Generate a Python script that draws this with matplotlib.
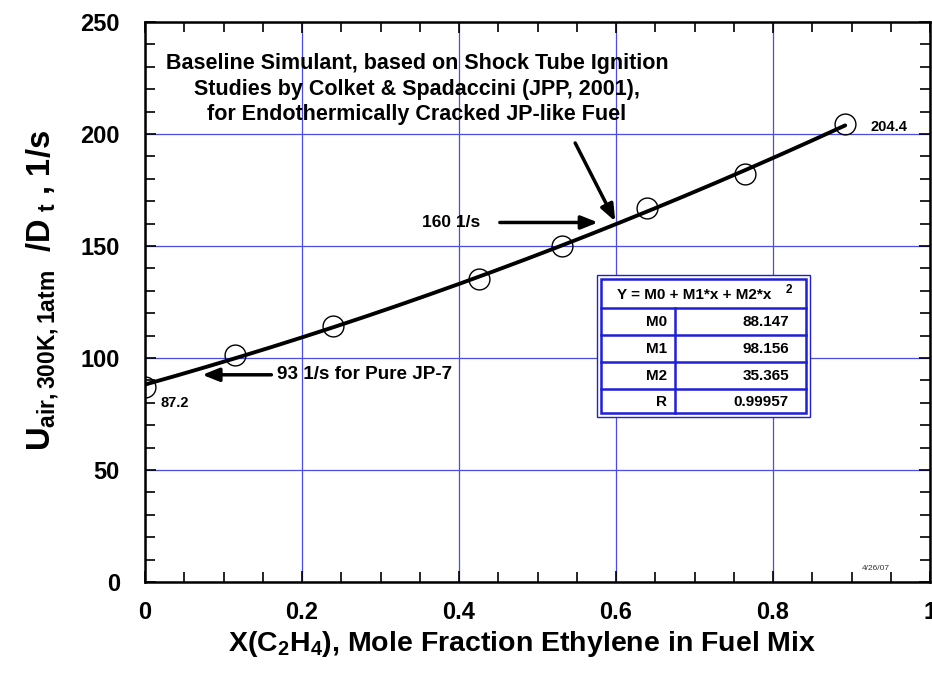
import numpy as np
import matplotlib
matplotlib.use('Agg')
import matplotlib.pyplot as plt
from matplotlib.patches import Rectangle
from matplotlib.lines import Line2D
from matplotlib.ticker import MultipleLocator

plt.rcParams['font.family'] = ['Liberation Sans', 'DejaVu Sans']
plt.rcParams['font.weight'] = 'bold'
plt.rcParams['axes.labelweight'] = 'bold'
plt.rcParams['mathtext.fontset'] = 'custom'
plt.rcParams['mathtext.rm'] = 'Liberation Sans:bold'
plt.rcParams['mathtext.it'] = 'Liberation Sans:bold'
plt.rcParams['mathtext.bf'] = 'Liberation Sans:bold'
plt.rcParams['mathtext.default'] = 'rm'

# Measured burner data: ethylene mole fraction vs. strain rate at extinction
x_c2h4 = [0.0, 0.115, 0.240, 0.426, 0.531, 0.640, 0.764, 0.892]
u_over_d = [87.2, 101.3, 114.5, 135.3, 150.0, 167.0, 182.0, 204.4]

# Quadratic fit Y = M0 + M1*x + M2*x^2
fit_names = ['M0', 'M1', 'M2', 'R']
fit_values = [88.147, 98.156, 35.365, 0.99957]

GRID_BLUE = '#4b4be6'
TABLE_BLUE = '#1f1fd6'

W, H = 932, 680
fig = plt.figure(figsize=(W / 100, H / 100), dpi=100)
ax = fig.add_axes([145 / W, 1 - 582 / H, 785 / W, 560 / H])


def px(x, y):
    # pixel position (from top-left) to figure fraction
    return x / W, 1 - y / H


# fitted curve over the measured range
m0, m1, m2 = fit_values[:3]
xf = np.linspace(0, max(x_c2h4), 200)
ax.plot(xf, m0 + m1 * xf + m2 * xf ** 2, color='black', lw=2.8, zorder=3,
        solid_capstyle='round')
ax.plot(x_c2h4, u_over_d, 'o', ms=15, mfc='none', mec='black', mew=1.0,
        zorder=4)

ax.set_xlim(0, 1)
ax.set_ylim(0, 250)
ax.xaxis.set_major_locator(MultipleLocator(0.2))
ax.xaxis.set_minor_locator(MultipleLocator(0.05))
ax.yaxis.set_major_locator(MultipleLocator(50))
ax.yaxis.set_minor_locator(MultipleLocator(10))
ax.xaxis.set_major_formatter(plt.FuncFormatter(lambda v, p: f'{v:g}'))
ax.tick_params(which='both', direction='in', top=True, right=True,
               width=1.2, labelsize=17)
ax.tick_params(which='major', length=8, pad=14)
ax.tick_params(which='minor', length=7)
ax.tick_params(axis='y', which='major', pad=18)
for s in ax.spines.values():
    s.set_linewidth(1.8)
ax.grid(True, which='major', color=GRID_BLUE, lw=0.9)
ax.set_axisbelow(True)

ax.set_xlabel(r'X(C$_2$H$_4$), Mole Fraction Ethylene in Fuel Mix',
              fontsize=20.5, labelpad=3)
ax.xaxis.label.set_x(0.48)
ax.set_ylabel(r'U$_{air,300K,1atm}$  /D$_{\ t}$ , 1/s', fontsize=23.5,
              labelpad=14)
ax.yaxis.label.set_y(0.52)

# endpoint values
ax.annotate(f'{u_over_d[0]:g}', (x_c2h4[0], u_over_d[0]), xytext=(11, -12),
            textcoords='offset points', fontsize=10.5, va='center')
ax.annotate(f'{u_over_d[-1]:g}', (x_c2h4[-1], u_over_d[-1]), xytext=(18, -2),
            textcoords='offset points', fontsize=10.5, va='center')

arrow = dict(arrowstyle='-|>,head_length=1.0,head_width=0.4', color='black',
             lw=2.5, shrinkA=0, shrinkB=0)
ax.text(0.3465, 220,
        'Baseline Simulant, based on Shock Tube Ignition\n'
        'Studies by Colket & Spadaccini (JPP, 2001),\n'
        'for Endothermically Cracked JP-like Fuel',
        ha='center', va='center', fontsize=15.5, linespacing=1.3)
ax.annotate('', xy=(0.599, 161), xytext=(0.548, 196), arrowprops=arrow)
ax.annotate('', xy=(0.577, 160.5), xytext=(0.452, 160.5), arrowprops=arrow)
ax.text(0.427, 160.5, '160 1/s', ha='right', va='center', fontsize=12.5)
ax.annotate('', xy=(0.073, 92.5), xytext=(0.161, 92.5), arrowprops=arrow)
ax.text(0.168, 92.5, '93 1/s for Pure JP-7', ha='left', va='center',
        fontsize=13.6)

# fit coefficient box
fig.patches.append(Rectangle(px(597, 417), 213 / W, 142 / H, fill=True,
                             fc='white', ec=TABLE_BLUE, lw=1.0,
                             transform=fig.transFigure, zorder=5))
fig.patches.append(Rectangle(px(601, 413), 205 / W, 134 / H, fill=False,
                             ec=TABLE_BLUE, lw=1.8,
                             transform=fig.transFigure, zorder=6))
row_lines = [308, 335, 362, 389]
for yy in row_lines:
    fig.lines.append(Line2D([601 / W, 806 / W], [1 - yy / H] * 2,
                            color=TABLE_BLUE, lw=1.8, transform=fig.transFigure,
                            zorder=6))
fig.lines.append(Line2D([675 / W] * 2, [1 - 308 / H, 1 - 413 / H],
                        color=TABLE_BLUE, lw=1.8, transform=fig.transFigure,
                        zorder=6))
fig.text(*px(694, 295), 'Y = M0 + M1*x + M2*x', ha='center', va='center',
         fontsize=11, zorder=7)
fig.text(*px(789, 290), '2', ha='center', va='center', fontsize=8.5,
         zorder=7)
row_y = [322, 349, 376, 402]
for name, val, yy in zip(fit_names, fit_values, row_y):
    fig.text(*px(667, yy), name, ha='right', va='center', fontsize=11,
             zorder=7)
    fig.text(*px(789, yy), f'{val:g}', ha='right', va='center',
             fontsize=11, zorder=7)

fig.text(*px(876, 568), '4/26/07', ha='center', va='center', fontsize=6,
         fontweight='normal', color='#333333')

fig.savefig('out.png', dpi=100)
